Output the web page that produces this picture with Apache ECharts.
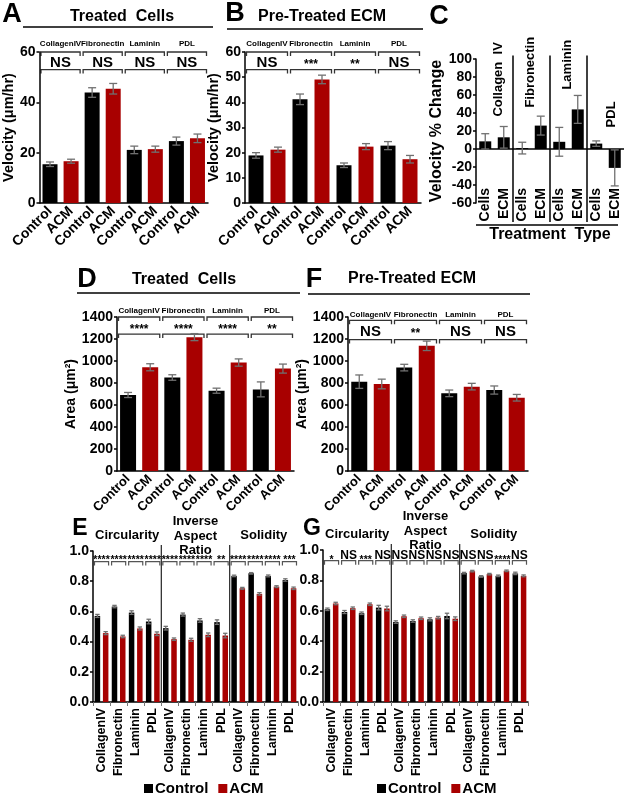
<!DOCTYPE html>
<html><head><meta charset="utf-8">
<script src="https://cdn.jsdelivr.net/npm/echarts@6/dist/echarts.min.js"></script>
<style>html,body{margin:0;padding:0;background:#fff}#c{width:625px;height:795px}</style>
</head><body><div id="c"></div>
<script>
// ---------------- DATA ----------------
const treatCats = ['Control','ACM','Control','ACM','Control','ACM','Control','ACM'];
const substrates = ['CollagenIV','Fibronectin','Laminin','PDL'];

const velTreatedMean = [15.4,16.6,43.9,45.4,21.1,21.4,24.6,25.7];
const velTreatedErr  = [0.9,0.8,1.9,2.1,1.5,1.2,1.6,1.7];
const velTreatedSig  = ['NS','NS','NS','NS'];

const velECMMean = [18.9,21.2,41.2,49.1,15.0,22.4,22.8,17.4];
const velECMErr  = [1.1,1.0,2.1,1.7,0.9,1.2,1.6,1.5];
const velECMSig  = ['NS','***','**','NS'];

const pctCats   = ['Cells','ECM','Cells','ECM','Cells','ECM','Cells','ECM'];
const pctGroups = ['Collagen  IV','Fibronectin','Laminin','PDL'];
const pctMean   = [8.5,13,1,26,8,44,6,-21];
const pctErr    = [8.5,12,6.5,10.5,16,15.5,3,20];

const areaTreatedMean = [691,943,850,1217,730,986,742,931];
const areaTreatedErr  = [23,32,25,32,23,33,68,41];
const areaTreatedSig  = ['****','****','****','**'];

const areaECMMean = [812,791,940,1138,706,767,736,666];
const areaECMErr  = [61,44,30,43,30,30,37,30];
const areaECMSig  = ['NS','**','NS','NS'];

const shapeCats = ['CollagenIV','Fibronectin','Laminin','PDL','CollagenIV','Fibronectin','Laminin','PDL','CollagenIV','Fibronectin','Laminin','PDL'];
const shapeMetrics = ['Circularity','Inverse\nAspect\nRatio','Solidity'];

const shapeTreatedControl    = [0.570,0.632,0.592,0.533, 0.489,0.579,0.540,0.529, 0.835,0.852,0.835,0.808];
const shapeTreatedControlErr = [0.010,0.008,0.012,0.015, 0.012,0.010,0.012,0.015, 0.005,0.005,0.006,0.008];
const shapeTreatedACM        = [0.456,0.434,0.487,0.452, 0.416,0.412,0.445,0.440, 0.753,0.716,0.764,0.753];
const shapeTreatedACMErr     = [0.010,0.008,0.010,0.012, 0.008,0.010,0.012,0.015, 0.006,0.008,0.006,0.008];
const shapeTreatedSig        = ['****','****','****','****','****','****','****','**','****','****','****','***'];

const shapeECMControl    = [0.610,0.592,0.584,0.621, 0.526,0.533,0.544,0.566, 0.848,0.826,0.830,0.846];
const shapeECMControlErr = [0.008,0.010,0.008,0.015, 0.008,0.008,0.010,0.018, 0.005,0.005,0.005,0.008];
const shapeECMACM        = [0.648,0.617,0.643,0.615, 0.564,0.551,0.555,0.548, 0.861,0.841,0.863,0.830];
const shapeECMACMErr     = [0.008,0.008,0.008,0.015, 0.008,0.008,0.008,0.012, 0.005,0.005,0.005,0.006];
const shapeECMSig        = ['*','NS','***','NS','NS','NS','NS','NS','NS','NS','****','NS'];

const legendNames = ['Control','ACM'];

// ---------------- STYLE / LAYOUT ----------------
const FF = '"Liberation Sans", Arial, Helvetica, sans-serif';
const BLK = '#000000', RED = '#a80000', ERR = '#707070', INK = '#000000';
const SHAPE_BW = 5.5, SHAPE_GAP = 0.5;

const chart = echarts.init(document.getElementById('c'), null, {width:625, height:795});

function yAx(gi, min, max, interval, opts) {
  opts = opts || {};
  return {
    type:'value', gridIndex:gi, min:min, max:max, interval:interval,
    name: opts.name || '', nameLocation:'middle', nameRotate:90, nameGap: opts.nameGap || 20,
    nameTextStyle:{fontFamily:FF, fontWeight:'bold', fontSize: opts.nameSize || 15, color:INK},
    axisLine:{show:true, onZero:false, lineStyle:{color:INK, width:1.5}},
    axisTick:{show:true, length:3, lineStyle:{color:INK, width:1.5}},
    splitLine:{show:false},
    axisLabel:{color:INK, fontFamily:FF, fontWeight:'bold', fontSize: opts.labelSize || 14, margin:4,
      formatter: opts.fmt || (v => String(v))}
  };
}
function xAx(gi, cats, rotate, opts) {
  opts = opts || {};
  return {
    type:'category', gridIndex:gi, data:cats,
    axisLine:{show: opts.line !== false, onZero:false, lineStyle:{color:INK, width:1.5}},
    axisTick:{show: !!opts.tick, length:4, lineStyle:{color:'#777', width:1}},
    splitLine:{show:false},
    axisLabel:{interval:0, rotate:rotate, margin: opts.margin !== undefined ? opts.margin : 5, color:INK, fontFamily:FF,
      fontWeight:'bold', fontSize: opts.size || 14}
  };
}
function pairBars(xi, means, w) {
  return {type:'bar', xAxisIndex:xi, yAxisIndex:xi, barWidth:w, silent:true,
    data: means.map((m,i)=>({value:m, itemStyle:{color: i%2 ? RED : BLK}}))};
}
function errSeries(xi, means, errs, capW, offset) {
  return {type:'custom', xAxisIndex:xi, yAxisIndex:xi, z:5, silent:true,
    data: means.map((m,i)=>[i, m-errs[i], m+errs[i]]),
    encode:{x:0, y:[1,2]},
    renderItem: function(p, api){
      const i = api.value(0);
      const lo = api.coord([i, api.value(1)]), hi = api.coord([i, api.value(2)]);
      const x = lo[0] + offset;
      const st = {stroke:ERR, lineWidth:1.3};
      return {type:'group', children:[
        {type:'line', shape:{x1:x,y1:lo[1],x2:x,y2:hi[1]}, style:st},
        {type:'line', shape:{x1:x-capW,y1:hi[1],x2:x+capW,y2:hi[1]}, style:st},
        {type:'line', shape:{x1:x-capW,y1:lo[1],x2:x+capW,y2:lo[1]}, style:st}
      ]};
    }};
}
const shapeOff = SHAPE_BW*(1+SHAPE_GAP)/2;
function shapeSeries(xi, ctl, ctlErr, acm, acmErr) {
  return [
    {name:'Control', type:'bar', xAxisIndex:xi, yAxisIndex:xi, barWidth:SHAPE_BW, barGap:(SHAPE_GAP*100)+'%', silent:true, itemStyle:{color:BLK}, data:ctl},
    {name:'ACM', type:'bar', xAxisIndex:xi, yAxisIndex:xi, barWidth:SHAPE_BW, barGap:(SHAPE_GAP*100)+'%', silent:true, itemStyle:{color:RED}, data:acm},
    errSeries(xi, ctl, ctlErr, 2.2, -shapeOff),
    errSeries(xi, acm, acmErr, 2.2, shapeOff)
  ];
}
const legendStyle = {data:legendNames, top:781, itemWidth:9, itemHeight:9, itemGap:10, icon:'rect',
  selectedMode:false, padding:0, textStyle:{fontFamily:FF, fontWeight:'bold', fontSize:15, color:INK, padding:[0,0,0,-3]}};

const option = {
  animation:false,
  backgroundColor:'#fff',
  grid:[
    {left:30,  top:52,  width:178, height:151},   // A
    {left:245, top:52,  width:176, height:151},   // B
    {left:476, top:59,  width:148, height:144},   // C
    {left:117, top:317, width:177, height:154},   // D
    {left:348, top:317, width:180, height:154},   // F
    {left:93,  top:551, width:205, height:151},   // E
    {left:323, top:550, width:205, height:152}    // G
  ],
  xAxis:[
    xAx(0, treatCats, 45, {margin:6}),
    xAx(1, treatCats, 45, {margin:6}),
    xAx(2, pctCats, 90, {margin:-15, line:false}),
    xAx(3, treatCats, 45, {margin:6, size:13}),
    xAx(4, treatCats, 45, {margin:6, size:13}),
    xAx(5, shapeCats, 90, {margin:6, size:12.5, tick:true}),
    xAx(6, shapeCats, 90, {margin:6, size:12.5, tick:true})
  ],
  yAxis:[
    yAx(0, 0, 60, 20, {name:'Velocity (μm/hr)', nameGap:19, nameSize:14.5}),
    yAx(1, 0, 60, 10, {name:'Velocity (μm/hr)', nameGap:21, nameSize:14.5}),
    yAx(2, -60, 100, 20, {name:'Velocity % Change', nameGap:28, nameSize:16}),
    yAx(3, 0, 1400, 200, {name:'Area (μm²)', nameGap:32, nameSize:14}),
    yAx(4, 0, 1400, 200, {name:'Area (μm²)', nameGap:30, nameSize:14}),
    yAx(5, 0, 1, 0.2, {fmt: v => v.toFixed(1)}),
    yAx(6, 0, 1, 0.2, {fmt: v => v.toFixed(1)})
  ],
  legend:[
    Object.assign({left:144}, legendStyle),
    Object.assign({left:377}, legendStyle)
  ],
  series:[
    pairBars(0, velTreatedMean, 15), errSeries(0, velTreatedMean, velTreatedErr, 4, 0),
    pairBars(1, velECMMean, 15),     errSeries(1, velECMMean, velECMErr, 4, 0),
    {type:'bar', xAxisIndex:2, yAxisIndex:2, barWidth:12, silent:true, itemStyle:{color:BLK}, data:pctMean,
      markLine:{silent:true, symbol:'none', label:{show:false}, lineStyle:{color:INK, width:1.5, type:'solid'},
        data:[{yAxis:0}]}},
    errSeries(2, pctMean, pctErr, 4, 0),
    pairBars(3, areaTreatedMean, 16), errSeries(3, areaTreatedMean, areaTreatedErr, 4, 0),
    pairBars(4, areaECMMean, 16),     errSeries(4, areaECMMean, areaECMErr, 4, 0)
  ].concat(
    shapeSeries(5, shapeTreatedControl, shapeTreatedControlErr, shapeTreatedACM, shapeTreatedACMErr),
    shapeSeries(6, shapeECMControl, shapeECMControlErr, shapeECMACM, shapeECMACMErr)
  )
};
chart.setOption(option);

// ---------------- ANNOTATIONS (positions from the chart's own scales) ----------------
function P(gi, x, y){ return chart.convertToPixel({gridIndex:gi}, [x, y]); }
function yPx(gi, v){ return P(gi, 0, v)[1]; }
function band(gi){ const a = P(gi,0,0)[0], b = P(gi,1,0)[0]; return {c0:a, w:b-a}; }
function edge(gi, k){ const b = band(gi); return b.c0 - b.w/2 + k*b.w; }

const els = [];
function line(x1,y1,x2,y2,w,c){ els.push({type:'line', silent:true, shape:{x1,y1,x2,y2}, style:{stroke:c||INK, lineWidth:w||1.5}}); }
function poly(pts,w,c){ els.push({type:'polyline', silent:true, shape:{points:pts}, style:{stroke:c||INK, lineWidth:w||1.3, fill:null}}); }
function text(x,y,t,size,o){
  o = o || {};
  els.push({type:'text', silent:true, x:x, y:y, rotation:o.rot||0,
    style:{text:t, fill:o.color||INK, font:(o.weight||'bold')+' '+size+'px '+FF,
      textAlign:o.align||'center', textVerticalAlign:o.valign||'middle', lineHeight:o.lh||undefined}});
}

// Panel letters, titles and title rules
text(12,15,'A',27); text(235,14,'B',27); text(439,17,'C',27);
text(87,280,'D',27); text(314,280,'F',27); text(80,529,'E',23); text(312,529,'G',23);
text(122,17,'Treated  Cells',16); line(23,27,213,27,1.5);
text(322,17,'Pre-Treated ECM',16); line(227,29,423,29,1.5);
text(184,280,'Treated  Cells',16); line(77,293,300,293,1.5);
text(412,279,'Pre-Treated ECM',16); line(308,294,530,294,1.5);

function groupBrackets(gi, topV, botV, sig, labOff){
  const yT = yPx(gi, topV), yB = yPx(gi, botV);
  for (let g=0; g<4; g++){
    const x0 = edge(gi,2*g)+1.5, x1 = edge(gi,2*g+2)-1.5, xc = (x0+x1)/2;
    poly([[x0,yT+4],[x0,yT],[x1,yT],[x1,yT+4]],1.3,'#333');
    poly([[x0,yB+4],[x0,yB],[x1,yB],[x1,yB+4]],1.3,'#333');
    text(xc, yT-labOff, substrates[g], 8);
    const s = sig[g], ns = s==='NS';
    text(xc, (yT+yB)/2 + (ns?2:4), s, ns?15:12);
  }
}
groupBrackets(0, 60, 53, velTreatedSig, 8);
groupBrackets(1, 60, 53, velECMSig, 8);
groupBrackets(3, 1400, 1245, areaTreatedSig, 6);
groupBrackets(4, 1370, 1195, areaECMSig, 6);

// Panel C: dividers, group labels, bottom rule, axis title
(function(){
  const gi = 2, yBot = yPx(gi,-60);
  [2,4,6].forEach(k => line(edge(gi,k), yPx(gi,104), edge(gi,k), yBot+19, 1.5));
  line(edge(gi,0), yBot+22, edge(gi,8)-6, yBot+22, 1.5);
  text((edge(gi,0)+edge(gi,8))/2, yBot+32, 'Treatment  Type', 16);
  const labAt = [[0.73,36],[2.45,46],[4.45,66],[6.8,24]];
  const b = band(gi);
  pctGroups.forEach((g,i) => {
    text(b.c0 + labAt[i][0]*b.w, yPx(gi, labAt[i][1]), g, 13, {rot:Math.PI/2, align:'left'});
  });
})();

// Panels E, G: metric headers, dividers, per-category brackets
function shapeAnn(gi, sig, iarOff){
  const top = yPx(gi,1);
  [4,8].forEach(k => line(edge(gi,k), yPx(gi,1.04), edge(gi,k), yPx(gi,0), 1.3, '#333'));
  shapeMetrics.forEach((m,i) => {
    const xc = (edge(gi,4*i)+edge(gi,4*i+4))/2;
    text(xc, top - (i===1 ? iarOff : 16), m, 13, {lh:14.5});
  });
  const y = yPx(gi, 0.93);
  for (let k=0;k<12;k++){
    const x0 = edge(gi,k)+1.5, x1 = edge(gi,k+1)-1.5, xc = (x0+x1)/2;
    poly([[x0,y+4],[x0,y],[x1,y],[x1,y+4]],1.2,'#555');
    const s = sig[k], ns = s==='NS';
    text(xc, ns ? y-5 : y-1, s, ns?12:10.5);
  }
}
shapeAnn(5, shapeTreatedSig, 15);
shapeAnn(6, shapeECMSig, 19);

chart.setOption({graphic:{elements:els}});
</script></body></html>
